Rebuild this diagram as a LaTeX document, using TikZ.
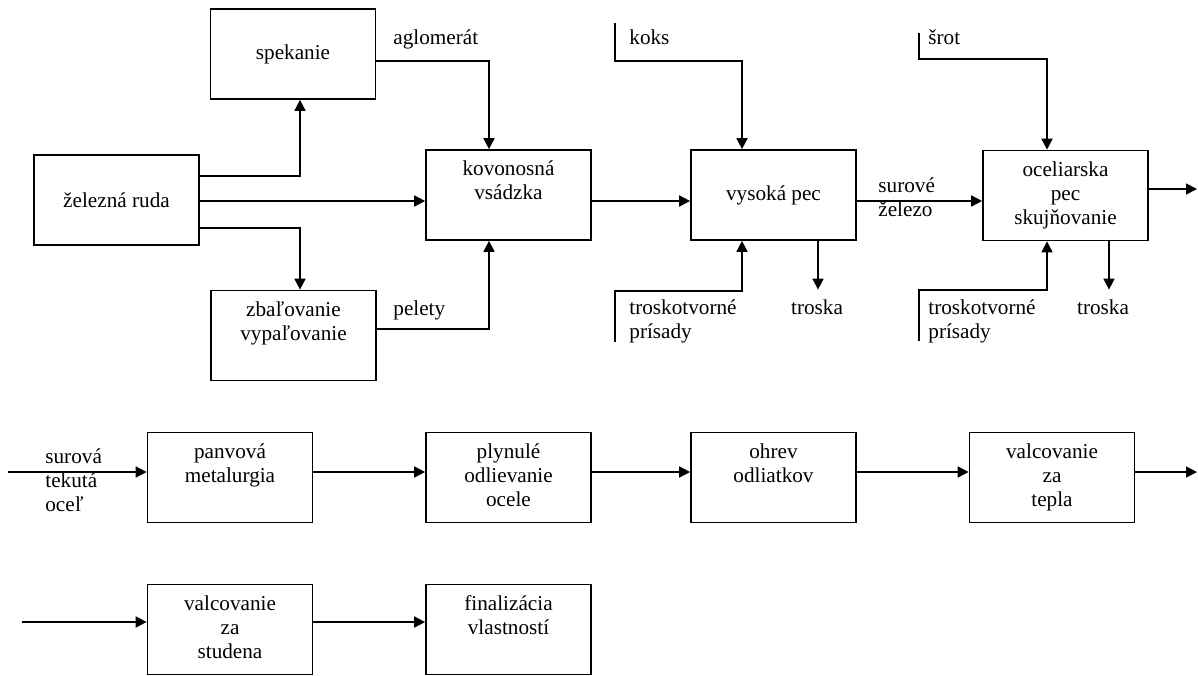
\documentclass[tikz,border=0pt]{standalone}
\usepackage{fontspec}
\setmainfont{Liberation Serif}
\usetikzlibrary{arrows.meta,calc}
\begin{document}
\begin{tikzpicture}[x=0.5pt,y=-0.5pt,
  font=\fontsize{10.6}{12}\selectfont,
  box/.style={draw,line width=0.85pt,minimum width=82.5pt,minimum height=45pt,
              inner sep=0pt,align=center},
  lbl/.style={anchor=west,inner sep=0pt,align=left},
  clbl/.style={anchor=center,inner sep=0pt},
  flow/.style={line width=0.85pt,-{Triangle[length=5.5pt,width=5.5pt]}}]
\useasboundingbox (0,0) rectangle (1198,675);

% ---- process boxes, top row ----
\node[box] (spek) at (293,54) {spekanie};
\node[box] (zbal) at (293.5,335.5) {\strut zbaľovanie\\\strut vypaľovanie\\\strut};
\node[box] (ruda) at (116.5,200) {železná ruda};
\node[box] (kov)  at (508.5,195) {\strut kovonosná\\\strut vsádzka\\\strut};
\node[box] (vys)  at (773.5,195) {vysoká pec};
\node[box] (ocel) at (1065.5,195.5) {\strut oceliarska\\\strut pec\\\strut skujňovanie};

% ---- process boxes, second row ----
\node[box] (panv)  at (230,477.5)   {\strut panvová\\\strut metalurgia\\\strut};
\node[box] (plyn)  at (508.5,477.5) {\strut plynulé\\\strut odlievanie\\\strut ocele};
\node[box] (ohrev) at (773.5,477.5) {\strut ohrev\\\strut odliatkov\\\strut};
\node[box] (vtep)  at (1052,477.5)  {\strut valcovanie\\\strut za\\\strut tepla};

% ---- process boxes, third row ----
\node[box] (vstud) at (230,629.5)   {\strut valcovanie\\\strut za\\\strut studena};
\node[box] (final) at (508.5,629.5) {\strut finalizácia\\\strut vlastností\\\strut};

% ---- material labels ----
\node[lbl] (aglo) at (393,40)  {\strut aglomerát};
\node[lbl] (pel)  at (393,311) {\strut pelety};
\node[lbl] (koks) at (629,40)  {\strut koks};
\node[lbl] (tp1)  at (629,321.5) {\strut troskotvorné\\\strut prísady};
\node[clbl] (tr1) at (817,310) {\strut troska};
\node[lbl] (sz)   at (878,199.5) {\strut surové\\\strut železo};
\node[lbl] (srot) at (928,40)  {\strut šrot};
\node[lbl] (tp2)  at (928,321.5) {\strut troskotvorné\\\strut prísady};
\node[clbl] (tr2) at (1103,310) {\strut troska};
\node[lbl] (sto)  at (45,482.5) {\strut surová\\\strut tekutá\\\strut oceľ};

% ---- free ends of feed and output lines ----
\coordinate (koksA) at (615,23);
\coordinate (tpA)   at (615,342);
\coordinate (srotA) at (919,33);
\coordinate (tpB)   at (919,341);
\coordinate (out1)  at (1197,189);
\coordinate (in2)   at (8,472);
\coordinate (out2)  at (1197,472);
\coordinate (in3)   at (22,622);

% ---- ore preparation ----
\draw[flow] ($(ruda.east)+(0,-24)$) -| ($(spek.south)+(7,0)$);
\draw[flow] ($(ruda.east)+(0,1)$) -- ($(kov.west)+(0,6)$);
\draw[flow] ($(ruda.east)+(0,28)$) -| ($(zbal.north)+(6.5,0)$);
\draw[flow] ($(spek.east)+(0,7)$) -| ($(kov.north)+(-19.5,0)$);
\draw[flow] ($(zbal.east)+(0,-6.5)$) -| ($(kov.south)+(-19.5,0)$);

% ---- blast furnace ----
\draw[flow] ($(kov.east)+(0,6)$) -- ($(vys.west)+(0,6)$);
\draw[flow] (koksA) -- ++(0,38) -| ($(vys.north)+(-31.5,0)$);
\draw[flow] (tpA) -- ++(0,-51) -| ($(vys.south)+(-31.5,0)$);
\draw[flow] ($(vys.south)+(44.5,0)$) -- ($(tr1.north)+(1,-8)$);

% ---- steelmaking furnace ----
\draw[flow] ($(vys.east)+(0,6)$) -- ($(ocel.west)+(0,5.5)$);
\draw[flow] (srotA) -- ++(0,26) -| ($(ocel.north)+(-18.5,0)$);
\draw[flow] (tpB) -- ++(0,-51) -| ($(ocel.south)+(-18.5,0)$);
\draw[flow] ($(ocel.south)+(43.5,0)$) -- ($(tr2.north)+(6,-8)$);
\draw[flow] ($(ocel.east)+(0,-6.5)$) -- (out1);

% ---- secondary metallurgy and hot rolling ----
\draw[flow] (in2) -- ($(panv.west)+(0,-5.5)$);
\draw[flow] ($(panv.east)+(0,-5.5)$) -- ($(plyn.west)+(0,-5.5)$);
\draw[flow] ($(plyn.east)+(0,-5.5)$) -- ($(ohrev.west)+(0,-5.5)$);
\draw[flow] ($(ohrev.east)+(0,-5.5)$) -- ($(vtep.west)+(0,-5.5)$);
\draw[flow] ($(vtep.east)+(0,-5.5)$) -- (out2);

% ---- cold rolling and finishing ----
\draw[flow] (in3) -- ($(vstud.west)+(0,-7.5)$);
\draw[flow] ($(vstud.east)+(0,-7.5)$) -- ($(final.west)+(0,-7.5)$);
\end{tikzpicture}
\end{document}
